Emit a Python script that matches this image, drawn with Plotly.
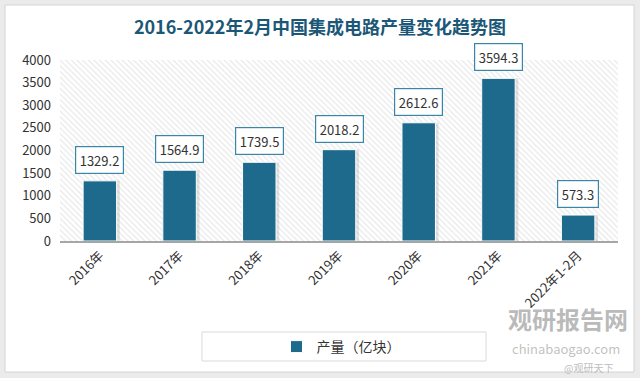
import plotly.graph_objects as go

categories = ["2016年", "2017年", "2018年", "2019年", "2020年", "2021年", "2022年1-2月"]
values = [1329.2, 1564.9, 1739.5, 2018.2, 2612.6, 3594.3, 573.3]
series_name = "产量（亿块）"
title_text = "2016-2022年2月中国集成电路产量变化趋势图"
y_ticks = [0, 500, 1000, 1500, 2000, 2500, 3000, 3500, 4000]

W, H = 640, 378
L, R, T, B = 60, 22, 60, 137
PW, PH = W - L - R, H - T - B

def px(x):
    return (x - L) / PW

def py(y):
    return (H - B - y) / PH

FONT = "Noto Sans CJK SC, Open Sans, sans-serif"
BAR = "#1d6a8c"

fig = go.Figure()

# hatched plot-area background (base axis, hidden)
fig.add_trace(go.Bar(
    x=[0.5], y=[4000], width=[1], xaxis="x", yaxis="y",
    marker=dict(color="white", line=dict(width=0),
                pattern=dict(shape="\\", fgcolor="#d2d2d2", bgcolor="white", size=4, solidity=0.3)),
    showlegend=False, hoverinfo="skip"))

# shadow
fig.add_trace(go.Bar(
    x=categories, y=values, xaxis="x2", yaxis="y", width=0.46, offset=-0.21,
    marker=dict(color="rgba(0,0,0,0.10)", line=dict(width=0)),
    showlegend=False, hoverinfo="skip"))

fig.add_trace(go.Bar(
    x=categories, y=values, xaxis="x2", yaxis="y", name=series_name, width=0.42,
    marker=dict(color=BAR, line=dict(color="#ffffff", width=1)),
    showlegend=True))

annotations = []
for c, v in zip(categories, values):
    annotations.append(dict(
        x=c, y=v, xref="x2", yref="y", text=f"{v:.1f}", showarrow=False,
        yanchor="bottom", yshift=7, font=dict(size=13, color="#333333", family=FONT),
        bgcolor="white", bordercolor="#3b86a8", borderwidth=1.2, borderpad=3.5))

# watermark
annotations += [
    dict(x=px(568), y=py(318), xref="paper", yref="paper", xanchor="center", yanchor="middle",
         text="<b>观研报告网</b>", showarrow=False,
         font=dict(size=24, color="rgba(140,140,140,0.6)", family=FONT)),
    dict(x=px(566), y=py(348), xref="paper", yref="paper", xanchor="center", yanchor="middle",
         text="chinabaogao.com", showarrow=False,
         font=dict(size=13, color="rgba(140,140,140,0.55)", family=FONT)),
    dict(x=px(588), y=py(367), xref="paper", yref="paper", xanchor="center", yanchor="middle",
         text="@观研天下", showarrow=False,
         font=dict(size=10, color="rgba(170,170,170,0.8)", family=FONT)),
]

shapes = [
    dict(type="rect", xref="paper", yref="paper", x0=px(5), x1=px(634), y0=py(372), y1=py(5),
         fillcolor="white", line=dict(color="#d4d4d4", width=1), layer="below"),
    dict(type="rect", xref="paper", yref="paper", x0=px(202), x1=px(486), y0=py(361), y1=py(332),
         fillcolor="white", line=dict(color="#d9d9d9", width=1), layer="below"),
]

fig.update_layout(
    width=W, height=H,
    margin=dict(l=L, r=R, t=T, b=B, autoexpand=False),
    paper_bgcolor="#ebebeb", plot_bgcolor="rgba(0,0,0,0)",
    font=dict(family=FONT, color="#333333"),
    barmode="overlay",
    title=dict(text=title_text, x=0.5, xref="container", xanchor="center",
               y=1 - 28 / H, yref="container", yanchor="middle",
               font=dict(size=18, color="#1b5777", family=FONT, weight="bold")),
    xaxis=dict(range=[0, 1], visible=False, fixedrange=True),
    xaxis2=dict(overlaying="x", side="bottom", type="category",
                range=[-0.5, len(categories) - 0.5],
                showline=True, linecolor="#a6a6a6", linewidth=1.5,
                tickangle=-45, tickfont=dict(size=13, color="#333333", family=FONT),
                ticks="", showgrid=False, anchor="y"),
    yaxis=dict(range=[0, 4000], tickvals=y_ticks, showgrid=False, zeroline=False,
               tickfont=dict(size=13, color="#333333", family=FONT), ticks="",
               ticklabelstandoff=8),
    legend=dict(orientation="h", x=px(341), y=py(347), xanchor="center", yanchor="middle",
                bgcolor="rgba(0,0,0,0)", font=dict(size=14, color="#333333", family=FONT),
                itemwidth=30),
    annotations=annotations,
    shapes=shapes,
)

fig.write_html("out.html", config={"displayModeBar": False},
               post_script="document.body.style.margin='0';document.body.style.overflow='hidden';")
